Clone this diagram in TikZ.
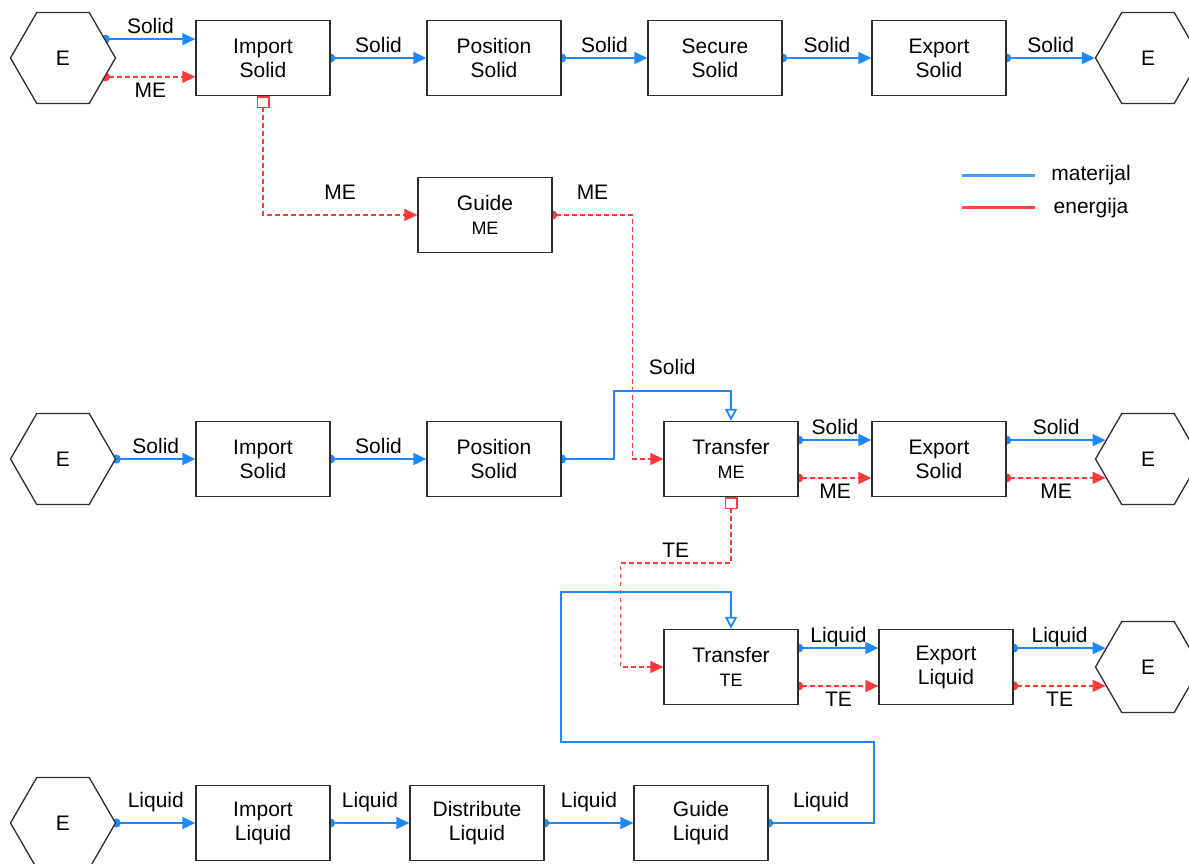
\documentclass[tikz,border=0pt]{standalone}
\usepackage{fontspec}
\setmainfont{Liberation Sans}
\usetikzlibrary{positioning,arrows.meta,shapes.geometric,backgrounds}
\definecolor{flowBlue}{RGB}{30,136,255}
\definecolor{flowRed}{RGB}{255,56,56}
\definecolor{boxLine}{RGB}{45,45,45}
\definecolor{legBlue}{RGB}{66,158,255}
\definecolor{legRed}{RGB}{255,70,70}
\newcommand{\subfnt}{\fontsize{18}{21}\selectfont}

\begin{document}
\begin{tikzpicture}[
    x=1pt, y=-1pt,
    func/.style={rectangle, draw=boxLine, line width=1.3pt, fill=white, minimum width=134pt, minimum height=75pt, inner sep=0pt, align=center, font=\fontsize{21}{24}\selectfont},
    env/.style={regular polygon, regular polygon sides=6, draw=boxLine, line width=1.3pt, fill=white, minimum size=105pt, inner sep=0pt, font=\fontsize{21}{24}\selectfont},
    material/.style={draw=flowBlue, line width=1.8pt, {Circle[length=9pt]}-{Triangle[length=13pt,width=12pt]}, shorten <=-4.5pt},
    material in/.style={draw=flowBlue, line width=1.8pt, {Circle[length=9pt]}-{Triangle[open,length=12pt,width=12pt]}, shorten <=-4.5pt},
    energy/.style={draw=flowRed, line width=1.5pt, dash pattern=on 4.5pt off 3.5pt, {Circle[length=9pt]}-{Triangle[length=13pt,width=12pt]}, shorten <=-4.5pt},
    energy port/.style={draw=flowRed, line width=1.5pt, dash pattern=on 4.5pt off 3.5pt, {Rectangle[open,length=12pt,width=13pt]}-{Triangle[length=13pt,width=12pt]}},
    flow note/.style={font=\fontsize{21}{24}\selectfont, inner sep=0pt},
    note above/.style={flow note, anchor=base, yshift=6pt},
    note high/.style={flow note, anchor=base, yshift=16pt},
    note below/.style={flow note, anchor=north, yshift=-5pt},
    legend note/.style={font=\fontsize{21}{24}\selectfont, inner sep=0pt}
]
  \useasboundingbox (0,0) rectangle (1189,863);

  \node[env] (envA) at (63,58) {E};
  \node[func] (impSolidA) at (263,58) {Import\\Solid};
  \node[func] (posSolidA) at (494,58) {Position\\Solid};
  \node[func] (secSolidA) at (715,58) {Secure\\Solid};
  \node[func] (expSolidA) at (939,58) {Export\\Solid};
  \node[env] (envB) at (1148,58) {E};
  \node[func] (guideME) at (485,215) {Guide\\{\subfnt ME}};

  \node[env] (envC) at (63,459) {E};
  \node[func] (impSolidB) at (263,459) {Import\\Solid};
  \node[func] (posSolidB) at (494,459) {Position\\Solid};
  \node[func] (trME) at (731,459) {Transfer\\{\subfnt ME}};
  \node[func] (expSolidB) at (939,459) {Export\\Solid};
  \node[env] (envD) at (1148,459) {E};

  \node[func] (trTE) at (731,667) {Transfer\\{\subfnt TE}};
  \node[func] (expLiquid) at (946,667) {Export\\Liquid};
  \node[env] (envE) at (1148,667) {E};

  \node[env] (envF) at (63,823) {E};
  \node[func] (impLiquid) at (263,823) {Import\\Liquid};
  \node[func] (distLiquid) at (477,823) {Distribute\\Liquid};
  \node[func] (guideLiquid) at (701,823) {Guide\\Liquid};

  \node[legend note] (legMat) at (1091,175) {materijal};
  \node[legend note] (legEne) at (1091,208) {energija};
  \draw[legBlue, line width=3pt] (962,175) -- (1035,175);
  \draw[legRed, line width=3pt] (962,207) -- (1035,207);

  \begin{scope}[on background layer]
    \draw[material] (envA.24) -- node[note above] {Solid} (envA.24 -| impSolidA.west);
    \draw[energy] (envA.-24) -- node[note below] {ME} (envA.-24 -| impSolidA.west);
    \draw[material] (impSolidA) -- node[note above] {Solid} (posSolidA);
    \draw[material] (posSolidA) -- node[note above] {Solid} (secSolidA);
    \draw[material] (secSolidA) -- node[note above] {Solid} (expSolidA);
    \draw[material] (expSolidA) -- node[note above] {Solid} (envB);

    \draw[energy port] (impSolidA.south) |- node[note high, pos=0.75] {ME} (guideME.west);
    \draw[energy] (guideME.east) -| node[note high, pos=0.25] {ME} ([xshift=-31pt]trME.west) -- (trME.west);

    \draw[material] (envC) -- node[note above] {Solid} (impSolidB);
    \draw[material] (impSolidB) -- node[note above] {Solid} (posSolidB);
    \draw[material in] (posSolidB.east) -- ++(52,0) |- node[note high, pos=0.75] {Solid} ([yshift=30pt]trME.north) -- (trME.north);
    \draw[material] ([yshift=19pt]trME.east) -- node[note above] {Solid} ([yshift=19pt]trME.east -| expSolidB.west);
    \draw[energy] ([yshift=-19pt]trME.east) -- node[note below] {ME} ([yshift=-19pt]trME.east -| expSolidB.west);
    \draw[material] (envD.156 -| expSolidB.east) -- node[note above] {Solid} (envD.156);
    \draw[energy] (envD.204 -| expSolidB.east) -- node[note below] {ME} (envD.204);

    \draw[energy port] (trME.south) -- ++(0,66) -| node[note above, pos=0.25] {TE} ([xshift=-43pt]trTE.west) -- (trTE.west);
    \draw[material] ([yshift=19pt]trTE.east) -- node[note above] {Liquid} ([yshift=19pt]trTE.east -| expLiquid.west);
    \draw[energy] ([yshift=-19pt]trTE.east) -- node[note below] {TE} ([yshift=-19pt]trTE.east -| expLiquid.west);
    \draw[material] (envE.156 -| expLiquid.east) -- node[note above] {Liquid} (envE.156);
    \draw[energy] (envE.204 -| expLiquid.east) -- node[note below] {TE} (envE.204);

    \draw[material] (envF) -- node[note high] {Liquid} (impLiquid);
    \draw[material] (impLiquid) -- node[note high] {Liquid} (distLiquid);
    \draw[material] (distLiquid) -- node[note high] {Liquid} (guideLiquid);
    \draw[material in] (guideLiquid.east) -- node[note high] {Liquid} ++(105,0) |- ++(-313,-81) |- ([yshift=37pt]trTE.north) -- (trTE.north);
  \end{scope}
\end{tikzpicture}
\end{document}
